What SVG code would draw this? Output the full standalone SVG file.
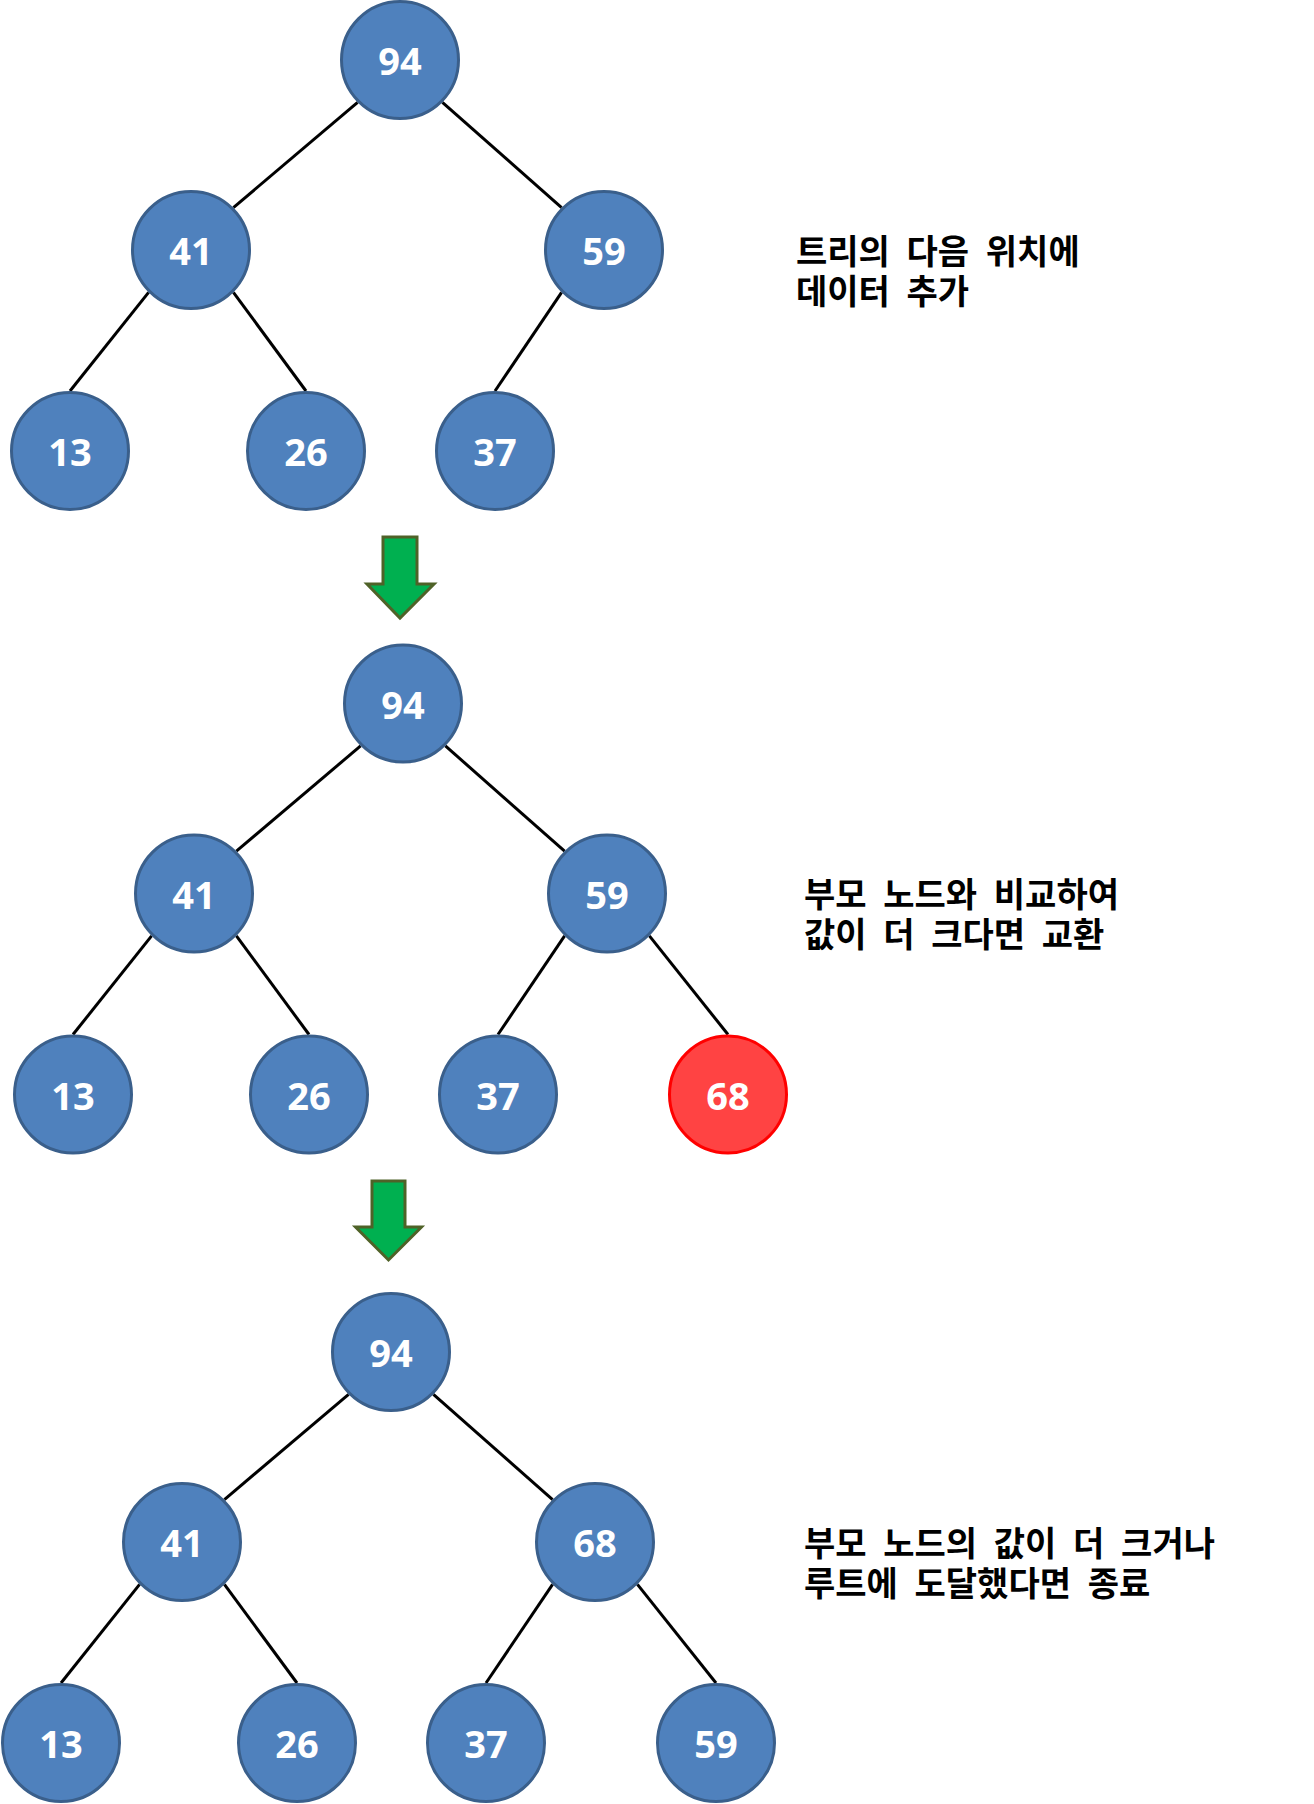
<svg xmlns="http://www.w3.org/2000/svg" width="1314" height="1804" viewBox="0 0 1314 1804">
<style>
.n circle{fill:#4F81BD;stroke:#3A5F8B;stroke-width:3}
.n.hot circle{fill:#FF4343;stroke:#FF0000}
.n text{fill:#fff;font-family:"Noto Sans","Open Sans",sans-serif;font-weight:700;font-size:38px;text-anchor:middle}
.e line{stroke:#000;stroke-width:3}
.arrow{fill:#00B050;stroke:#4F6228;stroke-width:3}
.lbl{font-family:"Noto Sans CJK KR","Noto Sans",sans-serif;font-weight:700;font-size:34px;fill:#000;word-spacing:9px}
</style>
<rect width="1314" height="1804" fill="#fff"/>
<g id="connectors" class="e">
<line x1="357.6" y1="102.4" x2="233.4" y2="207.6"/>
<line x1="442.4" y1="102.4" x2="561.6" y2="207.6"/>
<line x1="148.6" y1="292.4" x2="70" y2="391"/>
<line x1="233.4" y1="292.4" x2="306" y2="391"/>
<line x1="561.6" y1="292.4" x2="495" y2="391"/>
<line x1="360.6" y1="745.9" x2="236.4" y2="851.1"/>
<line x1="445.4" y1="745.9" x2="564.6" y2="851.1"/>
<line x1="151.6" y1="935.9" x2="73" y2="1034.5"/>
<line x1="236.4" y1="935.9" x2="309" y2="1034.5"/>
<line x1="564.6" y1="935.9" x2="498" y2="1034.5"/>
<line x1="649.4" y1="935.9" x2="728" y2="1034.5"/>
<line x1="348.6" y1="1394.4" x2="224.4" y2="1499.6"/>
<line x1="433.4" y1="1394.4" x2="552.6" y2="1499.6"/>
<line x1="139.6" y1="1584.4" x2="61" y2="1683"/>
<line x1="224.4" y1="1584.4" x2="297" y2="1683"/>
<line x1="552.6" y1="1584.4" x2="486" y2="1683"/>
<line x1="637.4" y1="1584.4" x2="716" y2="1683"/>
</g>
<g id="t1-94" class="n"><circle cx="400" cy="60" r="58.5"/><text x="400" y="75">94</text></g>
<g id="t1-41" class="n"><circle cx="191" cy="250" r="58.5"/><text x="191" y="265">41</text></g>
<g id="t1-59" class="n"><circle cx="604" cy="250" r="58.5"/><text x="604" y="265">59</text></g>
<g id="t1-13" class="n"><circle cx="70" cy="451" r="58.5"/><text x="70" y="466">13</text></g>
<g id="t1-26" class="n"><circle cx="306" cy="451" r="58.5"/><text x="306" y="466">26</text></g>
<g id="t1-37" class="n"><circle cx="495" cy="451" r="58.5"/><text x="495" y="466">37</text></g>
<g id="t2-94" class="n"><circle cx="403" cy="703.5" r="58.5"/><text x="403" y="718.5">94</text></g>
<g id="t2-41" class="n"><circle cx="194" cy="893.5" r="58.5"/><text x="194" y="908.5">41</text></g>
<g id="t2-59" class="n"><circle cx="607" cy="893.5" r="58.5"/><text x="607" y="908.5">59</text></g>
<g id="t2-13" class="n"><circle cx="73" cy="1094.5" r="58.5"/><text x="73" y="1109.5">13</text></g>
<g id="t2-26" class="n"><circle cx="309" cy="1094.5" r="58.5"/><text x="309" y="1109.5">26</text></g>
<g id="t2-37" class="n"><circle cx="498" cy="1094.5" r="58.5"/><text x="498" y="1109.5">37</text></g>
<g id="t2-68" class="n hot"><circle cx="728" cy="1094.5" r="58.5"/><text x="728" y="1109.5">68</text></g>
<g id="t3-94" class="n"><circle cx="391" cy="1352" r="58.5"/><text x="391" y="1367">94</text></g>
<g id="t3-41" class="n"><circle cx="182" cy="1542" r="58.5"/><text x="182" y="1557">41</text></g>
<g id="t3-68" class="n"><circle cx="595" cy="1542" r="58.5"/><text x="595" y="1557">68</text></g>
<g id="t3-13" class="n"><circle cx="61" cy="1743" r="58.5"/><text x="61" y="1758">13</text></g>
<g id="t3-26" class="n"><circle cx="297" cy="1743" r="58.5"/><text x="297" y="1758">26</text></g>
<g id="t3-37" class="n"><circle cx="486" cy="1743" r="58.5"/><text x="486" y="1758">37</text></g>
<g id="t3-59" class="n"><circle cx="716" cy="1743" r="58.5"/><text x="716" y="1758">59</text></g>
<g id="arrow1"><path class="arrow" d="M383,537 H417 V584 H434 L400,618 L367,584 H383 Z"/></g>
<g id="arrow2"><path class="arrow" d="M372,1181 H405 V1227 H421.5 L388.5,1260 L355.5,1227 H372 Z"/></g>
<g id="label1"><text class="lbl" x="796" y="264">트리의 다음 위치에<tspan x="796" dy="40">데이터 추가</tspan></text></g>
<g id="label2"><text class="lbl" x="804" y="907">부모 노드와 비교하여<tspan x="804" dy="40">값이 더 크다면 교환</tspan></text></g>
<g id="label3"><text class="lbl" x="804" y="1556">부모 노드의 값이 더 크거나<tspan x="804" dy="40">루트에 도달했다면 종료</tspan></text></g>
</svg>
